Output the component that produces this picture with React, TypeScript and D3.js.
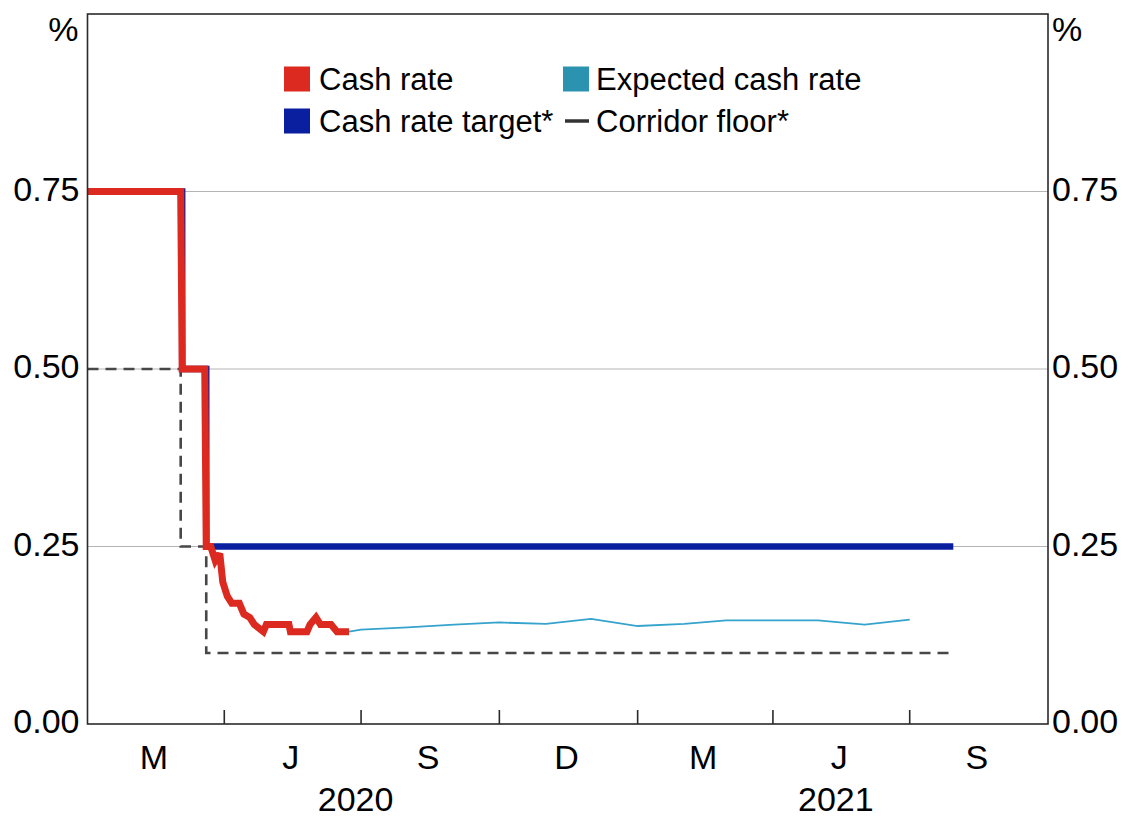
import React from 'react';
import * as d3 from 'd3';

// ---- Data ----
const cashRateDates = [
  '2020-01-01', '2020-03-03', '2020-03-04', '2020-03-19', '2020-03-20', '2020-03-23',
  '2020-03-26', '2020-03-29', '2020-03-31', '2020-04-03', '2020-04-06', '2020-04-11',
  '2020-04-14', '2020-04-18', '2020-04-21', '2020-04-27', '2020-04-29', '2020-05-14',
  '2020-05-15', '2020-05-26', '2020-05-28', '2020-06-01', '2020-06-04', '2020-06-11',
  '2020-06-15', '2020-06-23',
];
const cashRateValues = [
  0.75, 0.75, 0.5, 0.5, 0.25, 0.25,
  0.23, 0.24, 0.2, 0.18, 0.17, 0.17,
  0.155, 0.15, 0.14, 0.13, 0.14, 0.14,
  0.13, 0.13, 0.14, 0.15, 0.14, 0.14,
  0.13, 0.13,
];

const targetDates = ['2020-01-01', '2020-03-04', '2020-03-20', '2021-07-30'];
const targetValues = [0.75, 0.5, 0.25, 0.25];

const floorDates = ['2020-01-01', '2020-03-03', '2020-03-20', '2021-07-31'];
const floorValues = [0.5, 0.25, 0.1, 0.1];

const expectedDates = [
  '2020-06-23', '2020-07-01', '2020-08-01', '2020-09-01', '2020-10-01', '2020-11-01',
  '2020-12-01', '2021-01-01', '2021-02-01', '2021-03-01', '2021-04-01', '2021-05-01',
  '2021-06-01', '2021-07-01',
];
const expectedValues = [
  0.13, 0.133, 0.136, 0.14, 0.143, 0.141,
  0.148, 0.138, 0.141, 0.146, 0.146, 0.146,
  0.14, 0.147,
];

const yTicks = [0, 0.25, 0.5, 0.75];
const yTickLabels = ['0.00', '0.25', '0.50', '0.75'];
const quarterLabels = ['M', 'J', 'S', 'D', 'M', 'J', 'S'];
const yearLabels = ['2020', '2021'];
const legendItems = ['Cash rate', 'Expected cash rate', 'Cash rate target*', 'Corridor floor*'];

// ---- Layout ----
const W = 1124;
const H = 819;
const left = 87.5;
const right = 1048;
const top = 14;
const bottom = 724;

const RED = '#dc2a20';
const BLUE = '#0a1ea0';
const TEAL = '#2b93b0';
const TEAL_LINE = '#35a3cc';
const GRID = '#b5b5b5';
const AXIS = '#2a2a2a';
const FONT = '"Liberation Sans", Arial, sans-serif';

const parse = d3.timeParse('%Y-%m-%d');

export default function App() {
  const x = d3
    .scaleTime()
    .domain([parse('2020-01-01') as Date, parse('2021-10-01') as Date])
    .range([left, right]);
  const y = d3.scaleLinear().domain([0, 1]).range([bottom, top]);

  const zip = (ds: string[], vs: number[]) =>
    ds.map((d, i) => ({ date: parse(d) as Date, value: vs[i] }));

  const cash = zip(cashRateDates, cashRateValues);
  const target = zip(targetDates, targetValues);
  const floor = zip(floorDates, floorValues);
  const expected = zip(expectedDates, expectedValues);

  const lineLinear = d3
    .line<{ date: Date; value: number }>()
    .x((d) => x(d.date))
    .y((d) => y(d.value));
  const lineStep = d3
    .line<{ date: Date; value: number }>()
    .x((d) => x(d.date))
    .y((d) => y(d.value))
    .curve(d3.curveStepAfter);

  const [d0, d1] = x.domain();
  const quarterBounds = d3.timeMonth.range(d0, d1, 3).concat([d1]);
  const innerTicks = quarterBounds.slice(1, -1);
  const quarterCenters = quarterBounds.slice(0, -1).map((b, i) => (x(b) + x(quarterBounds[i + 1])) / 2);

  const yearStarts = [parse('2020-01-01') as Date, parse('2021-01-01') as Date];
  const yearCenters = yearStarts.map((ys, i) => {
    const ye = i + 1 < yearStarts.length ? yearStarts[i + 1] : d1;
    return (x(ys) + x(ye)) / 2 - 7;
  });

  const tickFont = 34;
  const legendFont = 31;
  const col1 = 284;
  const col2 = 563;
  const row1 = 79;
  const row2 = 121;
  const sq = 26;

  return (
    <svg
      width={W}
      height={H}
      style={{ position: 'absolute', left: 0, top: 0, background: '#fff' }}
      fontFamily={FONT}
    >
      <rect x={0} y={0} width={W} height={H} fill="#fff" />
      {/* gridlines */}
      {yTicks
        .filter((t) => t > 0)
        .map((t) => (
          <line key={t} x1={left} x2={right} y1={y(t)} y2={y(t)} stroke={GRID} strokeWidth={1.2} />
        ))}

      {/* corridor floor */}
      <path d={lineStep(floor) || ''} fill="none" stroke="#474747" strokeWidth={2.6} strokeDasharray="11,7" />
      {/* expected cash rate */}
      <path d={lineLinear(expected) || ''} fill="none" stroke={TEAL_LINE} strokeWidth={1.8} />
      {/* cash rate target */}
      <path d={lineStep(target) || ''} fill="none" stroke={BLUE} strokeWidth={6.5} />
      {/* cash rate */}
      <path d={lineLinear(cash) || ''} fill="none" stroke={RED} strokeWidth={7} strokeLinejoin="miter" strokeMiterlimit={3} />

      {/* frame */}
      <rect x={left} y={top} width={right - left} height={bottom - top} fill="none" stroke={AXIS} strokeWidth={1.6} />

      {/* x ticks */}
      {innerTicks.map((t, i) => (
        <line key={i} x1={x(t)} x2={x(t)} y1={bottom} y2={bottom - 14} stroke={AXIS} strokeWidth={1.6} />
      ))}

      {/* y labels */}
      {yTicks.map((t, i) => (
        <g key={t}>
          <text x={left - 8} y={y(t) + 9} textAnchor="end" fontSize={tickFont} fill="#000">
            {yTickLabels[i]}
          </text>
          <text x={right + 4} y={y(t) + 9} textAnchor="start" fontSize={tickFont} fill="#000">
            {yTickLabels[i]}
          </text>
        </g>
      ))}
      <text x={left - 9} y={41} textAnchor="end" fontSize={tickFont} fill="#000">%</text>
      <text x={right + 4} y={41} textAnchor="start" fontSize={tickFont} fill="#000">%</text>

      {/* x labels */}
      {quarterLabels.map((q, i) => (
        <text key={i} x={quarterCenters[i] - 2} y={769} textAnchor="middle" fontSize={34} fill="#000">
          {q}
        </text>
      ))}
      {yearLabels.map((yl, i) => (
        <text key={yl} x={yearCenters[i]} y={811} textAnchor="middle" fontSize={34} fill="#000">
          {yl}
        </text>
      ))}

      {/* legend */}
      <rect x={col1} y={row1 - 12.5} width={sq} height={25} fill={RED} />
      <text x={col1 + 35} y={row1 + 11} fontSize={legendFont} fill="#000">{legendItems[0]}</text>
      <rect x={col2} y={row1 - 12.5} width={sq} height={25} fill={TEAL} />
      <text x={col2 + 33} y={row1 + 11} fontSize={legendFont} fill="#000">{legendItems[1]}</text>
      <rect x={col1} y={row2 - 12.5} width={sq} height={25} fill={BLUE} />
      <text x={col1 + 35} y={row2 + 11} fontSize={legendFont} fill="#000">{legendItems[2]}</text>
      <line x1={col2 + 2} x2={col2 + sq} y1={row2} y2={row2} stroke="#333" strokeWidth={3.5} />
      <text x={col2 + 33} y={row2 + 11} fontSize={legendFont} fill="#000">{legendItems[3]}</text>
    </svg>
  );
}
